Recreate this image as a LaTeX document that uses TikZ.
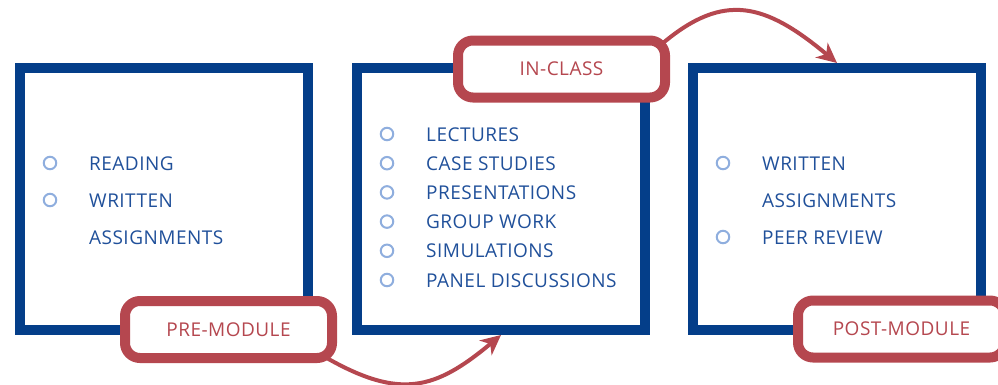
\documentclass[tikz,border=0pt]{standalone}
\usepackage{fontspec}
\setmainfont{Open Sans}[LetterSpace=2.5]
\usetikzlibrary{arrows.meta}
\definecolor{boxblue}{RGB}{4,62,137}
\definecolor{txtblue}{RGB}{32,80,154}
\definecolor{bullblue}{RGB}{143,174,222}
\definecolor{labred}{RGB}{181,71,79}
\tikzset{
  stagebox/.style={draw=boxblue, line width=10pt, minimum width=288pt, minimum height=262pt, inner sep=0pt},
  stagelabel/.style={draw=labred, fill=white, line width=10pt, rounded corners=15pt, minimum width=207pt, minimum height=57pt, inner sep=0pt, text=labred, font=\fontsize{19}{22}\selectfont},
  item/.style={anchor=base west, inner sep=0pt, text=txtblue, font=\fontsize{19}{22}\selectfont},
  bullet/.style={circle, draw=bullblue, line width=2pt, minimum size=12.5pt, inner sep=0pt},
  flow/.style={draw=labred, line width=4pt, -{Stealth[length=20pt, width=19pt, inset=6pt]}}
}
\begin{document}
\begin{tikzpicture}[x=1pt, y=-1pt]
\useasboundingbox (0,0) rectangle (998,384);
% stage boxes
\node[stagebox] (box1) at (164,199) {};
\node[stagebox] (box2) at (501,199) {};
\node[stagebox] (box3) at (837,199) {};
% items box 1
\node[bullet] (b11) at (50,163) {};
\node[item] (t11) at (89,170) {READING};
\node[bullet] (b12) at (50,200) {};
\node[item] (t12) at (89,207) {WRITTEN};
\node[item] (t13) at (89,244) {ASSIGNMENTS};
% items box 2
\node[bullet] (b21) at (387,134) {};
\node[item] (t21) at (426,141) {LECTURES};
\node[bullet] (b22) at (387,163.2) {};
\node[item] (t22) at (426,170.2) {CASE STUDIES};
\node[bullet] (b23) at (387,192.4) {};
\node[item] (t23) at (426,199.4) {PRESENTATIONS};
\node[bullet] (b24) at (387,221.6) {};
\node[item] (t24) at (426,228.6) {GROUP WORK};
\node[bullet] (b25) at (387,250.8) {};
\node[item] (t25) at (426,257.8) {SIMULATIONS};
\node[bullet] (b26) at (387,280) {};
\node[item] (t26) at (426,287) {PANEL DISCUSSIONS};
% items box 3
\node[bullet] (b31) at (723,163) {};
\node[item] (t31) at (762,170) {WRITTEN};
\node[item] (t32) at (762,207) {ASSIGNMENTS};
\node[bullet] (b32) at (723,237) {};
\node[item] (t33) at (762,244) {PEER REVIEW};
% label positions (drawn later)
\path (228.5,329.5) coordinate (cpre) (561.5,69) coordinate (cin) (901.5,329) coordinate (cpost);
% arrows
\draw[flow] ([shift={(-6,-6)}]cpre) ++(102.5,33.5) coordinate (s1)
  .. controls (400,400) and (435,390) .. (box2.south);
\draw[flow] ([shift={(-7,8)}]cin) ++(108.5,-34) coordinate (s2)
  .. controls (724,-8) and (765,3) .. (box3.north);
% labels
\node[stagelabel] (pre) at (cpre) {PRE-MODULE};
\node[stagelabel] (incl) at (cin) {IN-CLASS};
\node[stagelabel] (post) at (cpost) {POST-MODULE};
\end{tikzpicture}
\end{document}
